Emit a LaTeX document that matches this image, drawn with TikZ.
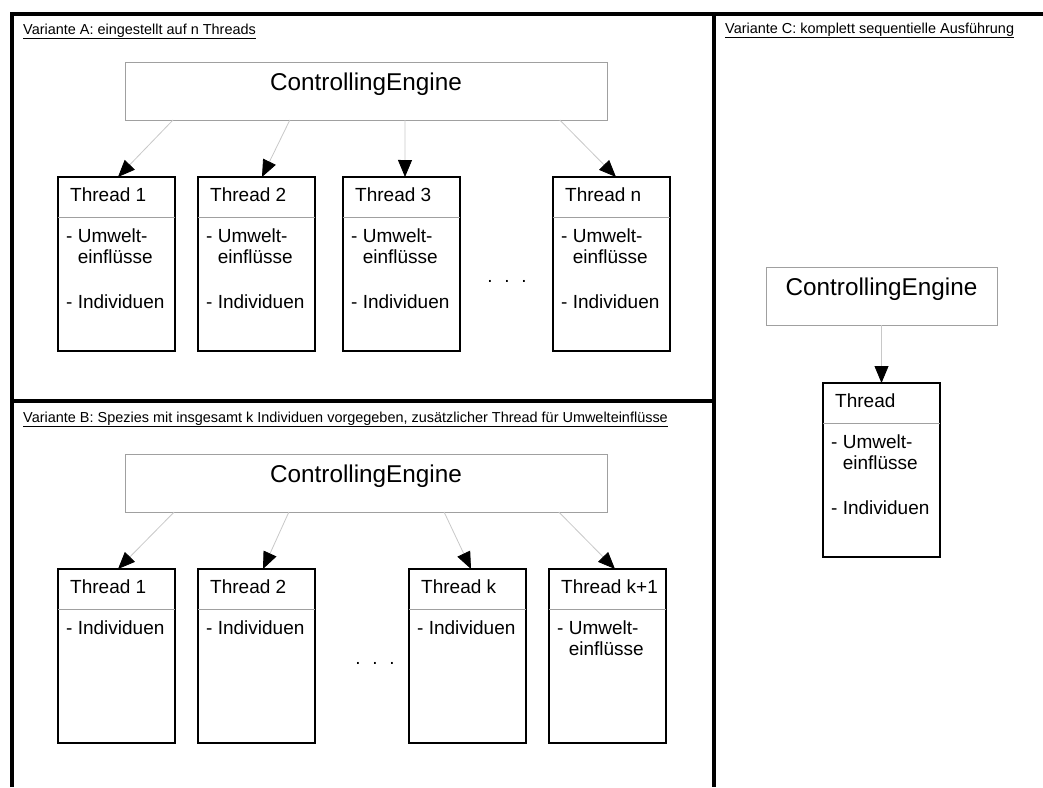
\documentclass[tikz,border=0pt]{standalone}
\usepackage{fontspec}
\setmainfont{Liberation Sans}
\usetikzlibrary{arrows.meta,calc}
\definecolor{arrowgray}{HTML}{C8C8C8}
\definecolor{boxgray}{HTML}{A0A0A0}
\tikzset{
  frame/.style={line width=4pt, line join=miter},
  thr/.style={draw=black, line width=2.8pt, fill=white, inner sep=0pt, outer sep=0pt,
    minimum width=117pt, minimum height=174pt, anchor=north west},
  sepline/.style={draw=boxgray, line width=0.8pt},
  cebox/.style={draw=boxgray, line width=1pt, inner sep=0pt, outer sep=0pt,
    minimum height=58pt, anchor=north west},
  cetxt/.style={anchor=base, inner sep=0pt, font=\fontsize{24.3}{28}\selectfont},
  ttxt/.style={anchor=base west, inner sep=0pt, font=\fontsize{19}{22}\selectfont},
  lbl/.style={anchor=base west, inner sep=0pt, font=\fontsize{14.45}{16}\selectfont},
  conn/.style={draw=arrowgray, line width=0.8pt,
    -{Triangle[length=17pt,width=14pt,color=black]}},
}
\newcommand\mkthread[4]{%
  \node[thr] (#1) at (#2,#3) {};
  \draw[sepline] ($(#1.north west)+(0,40)$) -- ($(#1.north east)+(0,40)$);
  \node[ttxt] (#1-t) at ($(#1.north west)+(12,24)$) {#4};
}
\begin{document}
\begin{tikzpicture}[x=1pt,y=-1pt]
\useasboundingbox (0,0) rectangle (1043,787);
% frame
\draw[frame] (12,787) -- (12,14) -- (1043,14);
\draw[frame] (713.7,14) -- (713.7,787);
\draw[frame] (12,401) -- (713.7,401);

% ---------- Variante A ----------
\node[lbl] (lA) at (23,34) {\underline{Variante A: eingestellt auf n Threads}};
\node[cebox, minimum width=482pt] (ceA) at (125,62) {};
\node[cetxt] (ceA-t) at ($(ceA.north)+(0,28)$) {ControllingEngine};

\mkthread{tA1}{58}{177}{Thread 1}
\mkthread{tA2}{198}{177}{Thread 2}
\mkthread{tA3}{343}{177}{Thread 3}
\mkthread{tAn}{553}{177}{Thread n}
\foreach \t in {tA1,tA2,tA3,tAn}{
  \node[ttxt] (\t-u) at ($(\t.north west)+(8,65)$) {- Umwelt-};
  \node[ttxt] (\t-e) at ($(\t.north west)+(8,86)$) {\phantom{- }einflüsse};
  \node[ttxt] (\t-i) at ($(\t.north west)+(8,131)$) {- Individuen};
}
\node[ttxt, anchor=base] (dotsA) at (507,282) {.\hspace{11.6pt}.\hspace{11.6pt}.};

\draw[conn] ($(ceA.south west)!0.0996!(ceA.south east)$) -- ($(tA1.north west)+(60,0)$);
\draw[conn] ($(ceA.south west)!0.342!(ceA.south east)$) -- ($(tA2.north west)+(64,0)$);
\draw[conn] ($(ceA.south west)!0.581!(ceA.south east)$) -- ($(tA3.north west)+(62,0)$);
\draw[conn] ($(ceA.south west)!0.902!(ceA.south east)$) -- ($(tAn.north west)+(63,0)$);

% ---------- Variante B ----------
\node[lbl] (lB) at (23,422) {\underline{Variante B: Spezies mit insgesamt k Individuen vorgegeben, zusätzlicher Thread für Umwelteinflüsse}};
\node[cebox, minimum width=482pt] (ceB) at (125,454) {};
\node[cetxt] (ceB-t) at ($(ceB.north)+(0,28)$) {ControllingEngine};

\mkthread{tB1}{58}{569}{Thread 1}
\mkthread{tB2}{198}{569}{Thread 2}
\mkthread{tBk}{409}{569}{Thread k}
\mkthread{tBl}{549}{569}{Thread k+1}
\foreach \t in {tB1,tB2,tBk}{
  \node[ttxt] (\t-i) at ($(\t.north west)+(8,65)$) {- Individuen};
}
\node[ttxt] (tBl-u) at ($(tBl.north west)+(8,65)$) {- Umwelt-};
\node[ttxt] (tBl-e) at ($(tBl.north west)+(8,86)$) {\phantom{- }einflüsse};
\node[ttxt, anchor=base] (dotsB) at (375,664) {.\hspace{11.6pt}.\hspace{11.6pt}.};

\draw[conn] ($(ceB.south west)!0.102!(ceB.south east)$) -- ($(tB1.north west)+(60,0)$);
\draw[conn] ($(ceB.south west)!0.340!(ceB.south east)$) -- ($(tB2.north west)+(65,0)$);
\draw[conn] ($(ceB.south west)!0.662!(ceB.south east)$) -- ($(tBk.north west)+(62,0)$);
\draw[conn] ($(ceB.south west)!0.900!(ceB.south east)$) -- ($(tBl.north west)+(66,0)$);

% ---------- Variante C ----------
\node[lbl] (lC) at (725,33) {\underline{Variante C: komplett sequentielle Ausführung}};
\node[cebox, minimum width=231pt] (ceC) at (766,267) {};
\node[cetxt] (ceC-t) at ($(ceC.north)+(0,28)$) {ControllingEngine};
\mkthread{tC}{823}{383}{Thread}
\node[ttxt] (tC-u) at ($(tC.north west)+(8,65)$) {- Umwelt-};
\node[ttxt] (tC-e) at ($(tC.north west)+(8,86)$) {\phantom{- }einflüsse};
\node[ttxt] (tC-i) at ($(tC.north west)+(8,131)$) {- Individuen};
\draw[conn] (ceC.south) -- (tC.north);
\end{tikzpicture}
\end{document}
